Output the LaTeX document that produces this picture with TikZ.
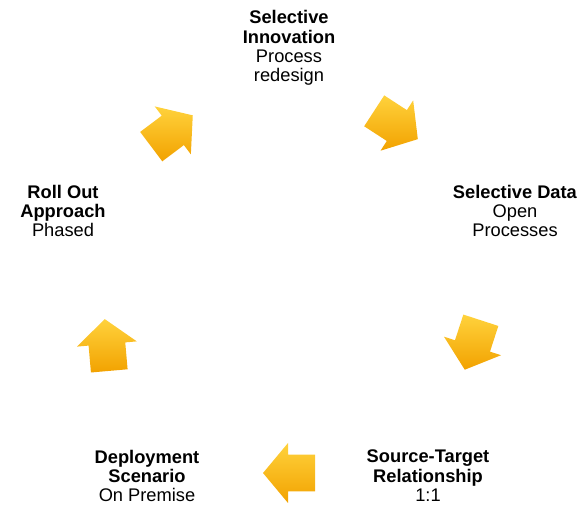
\documentclass[tikz,border=0pt]{standalone}
\usepackage{fontspec}
\setmainfont{Liberation Sans}
\usetikzlibrary{positioning}
\definecolor{arrowlight}{HTML}{FFD23C}
\definecolor{arrowdark}{HTML}{F2A200}

\begin{document}
\begin{tikzpicture}[
        stage/.style={align=center, font=\fontsize{13}{13.8}\selectfont, inner sep=0pt},
        cyclearrow/.style={top color=arrowlight, bottom color=arrowdark, draw=none}
    ]
        \useasboundingbox (0,0) rectangle (14.525,12.625);
        \node[stage] (innov) at (7.225,11.425) {\textbf{Selective}\\\textbf{Innovation}\\Process\\redesign};
        \node[stage] (data) at (12.875,7.35) {\textbf{Selective Data}\\Open\\Processes};
        \node[stage] (target) at (10.7,0.725) {\textbf{Source-Target}\\\textbf{Relationship}\\1:1};
        \node[stage] (deploy) at (3.675,0.725) {\textbf{Deployment}\\\textbf{Scenario}\\On Premise};
        \node[stage] (rollout) at (1.575,7.35) {\textbf{Roll Out}\\\textbf{Approach}\\Phased};
        % block arrows between the stages
        \foreach \x/\y/\a in {4.3/9.35/37, 9.9/9.5/-33, 11.82/4.0/-108, 7.225/0.8/180, 2.675/4.0/95}
            \shade[cyclearrow, shift={(\x,\y)}, rotate=\a] (-0.65,0.46) -- (0.025,0.46) -- (0.025,0.75) -- (0.65,0) -- (0.025,-0.75) -- (0.025,-0.46) -- (-0.65,-0.46) -- cycle;
\end{tikzpicture}
\end{document}
